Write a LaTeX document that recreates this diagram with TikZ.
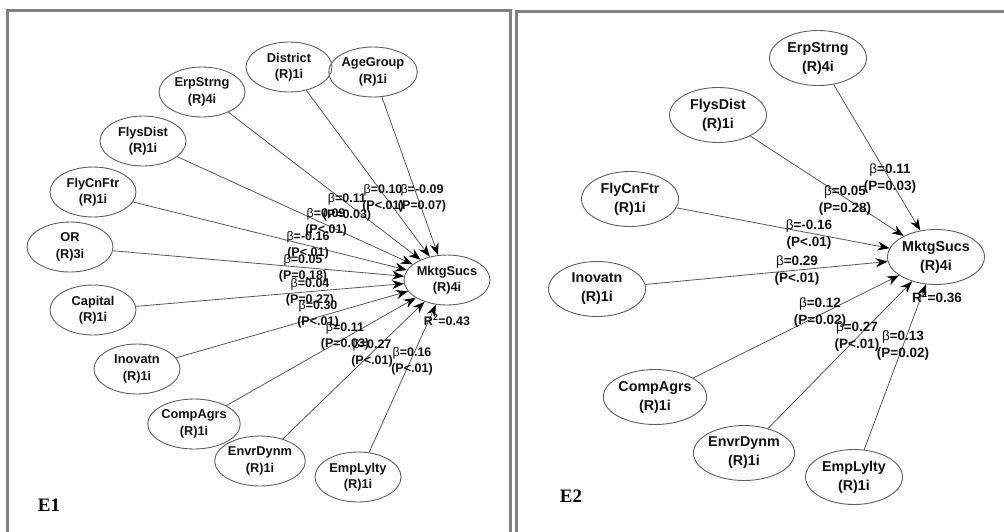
\documentclass[tikz,border=0pt]{standalone}
\usepackage{fontspec}
\setmainfont{Liberation Sans}
\newfontfamily\panelfont{Liberation Serif}
\usetikzlibrary{shapes.geometric,arrows.meta}

\definecolor{framegray}{HTML}{808080}
\definecolor{ellgray}{HTML}{606060}
\definecolor{linegray}{HTML}{585858}
\definecolor{txt}{HTML}{111111}

\newcommand{\bt}{{\mdseries β}}

\begin{document}
\begin{tikzpicture}[x=1pt,y=-1pt,
  lat/.style={ellipse,draw=ellgray,line width=0.9pt,minimum width=86pt,minimum height=50pt,
    inner sep=0pt,align=center,text=txt,font=\fontsize{12.8}{16.5}\selectfont\bfseries},
  latB/.style={lat,minimum width=97pt,minimum height=55pt,font=\fontsize{14.3}{19}\selectfont\bfseries},
  conn/.style={draw=linegray,line width=0.8pt,-{Stealth[length=12pt,width=9pt,color=black]}},
  coef/.style={align=center,inner sep=0pt,text=txt,font=\fontsize{12.5}{16}\selectfont\bfseries},
  coefB/.style={coef,font=\fontsize{13.5}{17}\selectfont\bfseries},
  panel/.style={draw=framegray,line width=3pt},
  tag/.style={inner sep=0pt,text=black,font=\fontsize{19}{19}\selectfont\panelfont\bfseries}]

\useasboundingbox (0,0) rectangle (1004,531);
\clip (0,0) rectangle (1004,531);
\fill[white] (0,0) rectangle (1004,531);

% panel frames
\draw[panel] (7.5,10.5) rectangle (510,560);
\draw[panel] (516.5,11) rectangle (1040,560);

% ---------------- E1 ----------------
\node[lat] (a-y)   at (447,280) {MktgSucs\\(R)4i};
\node[lat] (a-dis) at (289,67)  {District\\(R)1i};
\node[lat] (a-age) at (373,72)  {AgeGroup\\(R)1i};
\node[lat] (a-erp) at (202,92)  {ErpStrng\\(R)4i};
\node[lat] (a-fds) at (143,141) {FlysDist\\(R)1i};
\node[lat] (a-fcf) at (93,192)  {FlyCnFtr\\(R)1i};
\node[lat] (a-or)  at (70,247)  {OR\\(R)3i};
\node[lat] (a-cap) at (93,310)  {Capital\\(R)1i};
\node[lat] (a-ino) at (137,369) {Inovatn\\(R)1i};
\node[lat] (a-cag) at (194,424) {CompAgrs\\(R)1i};
\node[lat] (a-env) at (260,461) {EnvrDynm\\(R)1i};
\node[lat] (a-emp) at (358,477) {EmpLylty\\(R)1i};

\foreach \s in {a-dis,a-age,a-erp,a-fds,a-fcf,a-or,a-cap,a-ino,a-cag,a-env,a-emp}
  \draw[conn] (\s) -- (a-y);

\node[coef] (c-dis) at (383,198) {\bt=0.10\\(P<.01)};
\node[coef] (c-age) at (422,198) {\bt=-0.09\\(P=0.07)};
\node[coef] (c-erp) at (347,207) {\bt=0.11\\(P=0.03)};
\node[coef] (c-fds) at (326,222) {\bt=0.09\\(P<.01)};
\node[coef] (c-fcf) at (308,245) {\bt=-0.16\\(P<.01)};
\node[coef] (c-or)  at (303,268) {\bt=0.05\\(P=0.18)};
\node[coef] (c-cap) at (310,292) {\bt=0.04\\(P=0.27)};
\node[coef] (c-ino) at (318,314) {\bt=0.30\\(P<.01)};
\node[coef] (c-cag) at (345,336) {\bt=0.11\\(P=0.03)};
\node[coef] (c-env) at (372,353) {\bt=0.27\\(P<.01)};
\node[coef] (c-emp) at (412,361) {\bt=0.16\\(P<.01)};
\node[coef] (r-a)   at (447,320) {R\textsuperscript{2}=0.43};

\node[tag] (t-a) at (49,505) {E1};

% ---------------- E2 ----------------
\node[latB] (b-y)   at (936,257) {MktgSucs\\(R)4i};
\node[latB] (b-erp) at (818,58)  {ErpStrng\\(R)4i};
\node[latB] (b-fds) at (718,115) {FlysDist\\(R)1i};
\node[latB] (b-fcf) at (630,199) {FlyCnFtr\\(R)1i};
\node[latB] (b-ino) at (597,289) {Inovatn\\(R)1i};
\node[latB] (b-cag) at (655,397) {CompAgrs\\(R)1i};
\node[latB] (b-env) at (744,453) {EnvrDynm\\(R)1i};
\node[latB] (b-emp) at (854,477) {EmpLylty\\(R)1i};

\foreach \s in {b-erp,b-fds,b-fcf,b-ino,b-cag,b-env,b-emp}
  \draw[conn] (\s) -- (b-y);

\node[coefB] (d-erp) at (890,179) {\bt=0.11\\(P=0.03)};
\node[coefB] (d-fds) at (845,201) {\bt=0.05\\(P=0.28)};
\node[coefB] (d-fcf) at (809,235) {\bt=-0.16\\(P<.01)};
\node[coefB] (d-ino) at (797,271) {\bt=0.29\\(P<.01)};
\node[coefB] (d-cag) at (820,313) {\bt=0.12\\(P=0.02)};
\node[coefB] (d-env) at (857,337) {\bt=0.27\\(P<.01)};
\node[coefB] (d-emp) at (903,346) {\bt=0.13\\(P=0.02)};
\node[coefB] (r-b)   at (937,297) {R\textsuperscript{2}=0.36};

\node[tag] (t-b) at (571,496) {E2};

\end{tikzpicture}
\end{document}
